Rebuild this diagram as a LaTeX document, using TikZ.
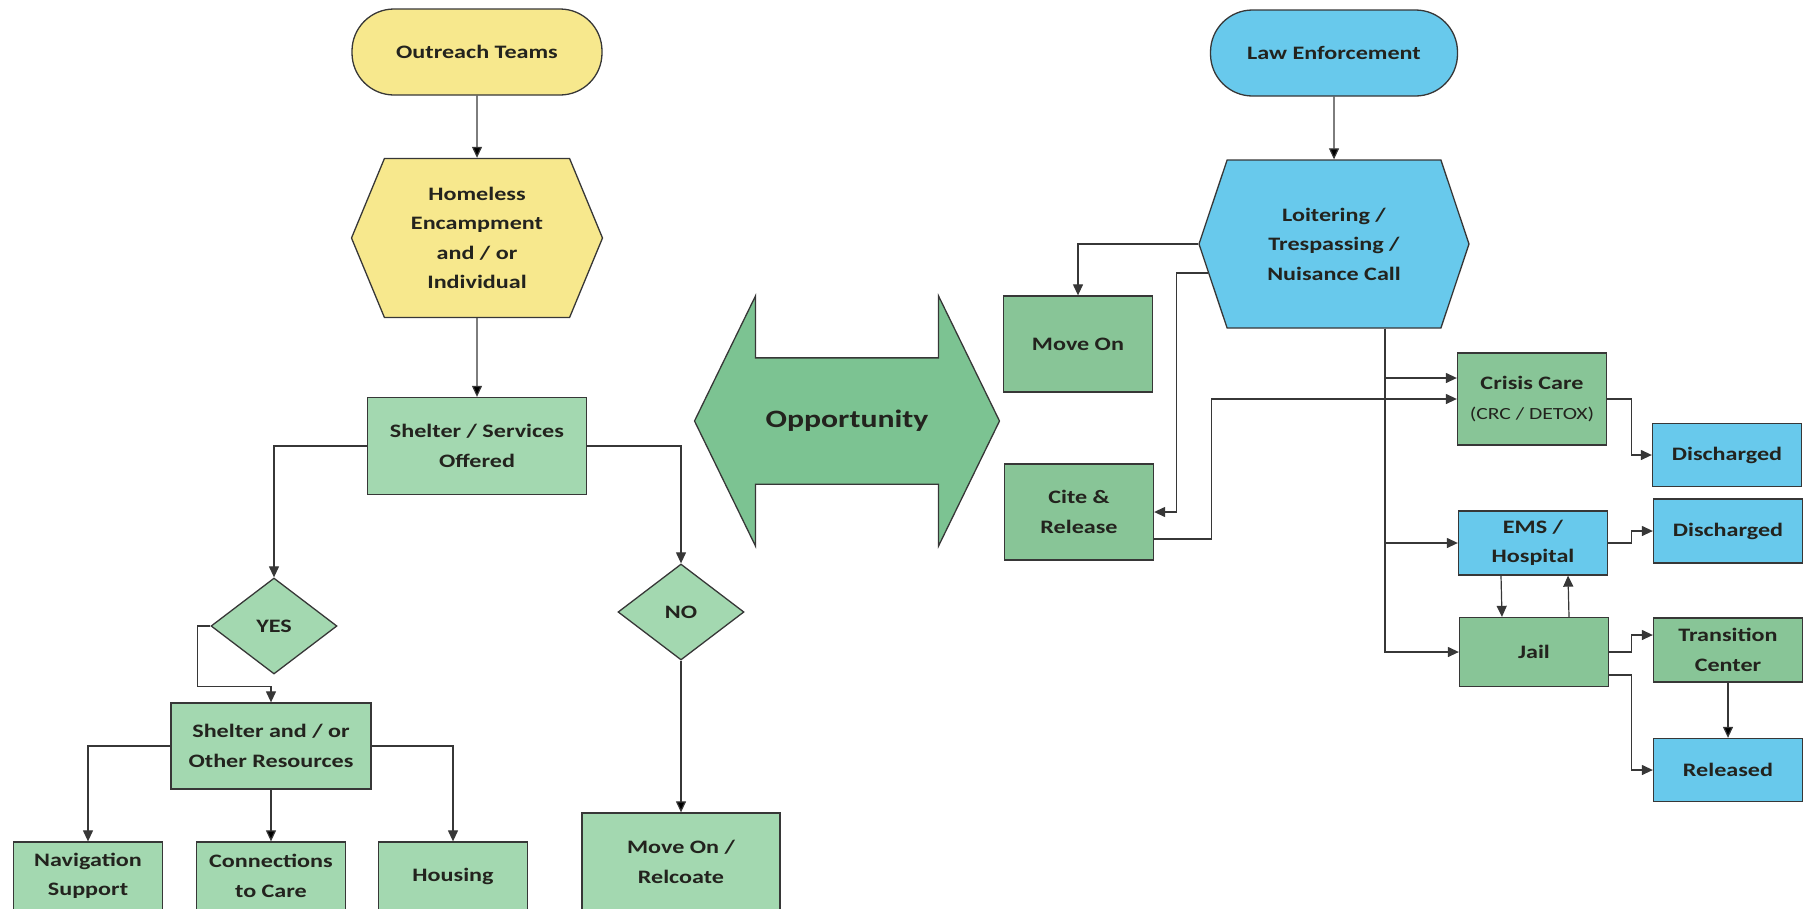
\documentclass[tikz,border=0pt]{standalone}
\usepackage{fontspec}
\setmainfont[FakeStretch=1.27]{Carlito}
\usetikzlibrary{arrows.meta,positioning,calc,shapes.geometric,shapes.symbols,shapes.arrows}

\definecolor{outyellow}{RGB}{247,232,141}
\definecolor{lightgreen}{RGB}{163,216,176}
\definecolor{midgreen}{RGB}{136,197,151}
\definecolor{oppgreen}{RGB}{124,195,146}
\definecolor{skyblue}{RGB}{104,201,236}
\definecolor{edgegray}{RGB}{55,55,55}
\definecolor{textdark}{RGB}{35,35,30}

\begin{document}
\begin{tikzpicture}[x=1pt,y=-1pt,on grid,
    every node/.style={font=\fontsize{19}{29.5}\selectfont\bfseries,text=textdark,align=center},
    base/.style={draw=edgegray,line width=1.3pt,inner sep=2pt},
    pill/.style={base,rectangle,rounded corners=42pt,minimum width=250pt,minimum height=86pt},
    hexa/.style={base,signal,signal to=west and east},
    box/.style={base,rectangle,minimum width=149pt,minimum height=96pt},
    choice/.style={base,diamond,minimum width=126pt,minimum height=96pt,inner sep=0pt,fill=lightgreen},
    link/.style={draw=edgegray,line width=1.2pt,-{Triangle[length=11pt,width=10pt]}}]
  \clip (0,0) rectangle (1813,908);

  % outreach side
  \node[pill,fill=outyellow] (outreach) at (477,52) {Outreach Teams};
  \node[hexa,fill=outyellow,minimum width=251pt,minimum height=159pt,signal pointer angle=135]
    (home) [below=186pt of outreach] {Homeless\\Encampment\\and / or\\Individual};
  \node[box,fill=lightgreen,minimum width=219pt,minimum height=97pt]
    (offer) [below=208pt of home] {Shelter / Services\\Offered};
  \node[choice] (yes) at (274,626) {YES};
  \node[choice] (no) at (681,612) {NO};
  \node[box,fill=lightgreen,minimum width=200pt,minimum height=86pt] (res) at (271,746) {Shelter and / or\\Other Resources};
  \node[box,fill=lightgreen,minimum height=68pt] (nav) at (88,876) {Navigation\\Support};
  \node[box,fill=lightgreen,minimum height=68pt] (care) at (271,876) {Connections\\to Care};
  \node[box,fill=lightgreen,minimum height=68pt] (housing) at (453,876) {Housing};
  \node[box,fill=lightgreen,minimum width=198pt,minimum height=98pt] (relocate) at (681,862) {Move On /\\Relcoate};

  % middle
  \node[base,double arrow,fill=oppgreen,minimum height=305pt,minimum width=249pt,
    inner xsep=0pt,inner ysep=51.5pt,text height=17pt,text depth=5pt,
    double arrow head extend=62pt,double arrow tip angle=128,
    font=\fontsize{25}{30}\selectfont\bfseries] (opp) at (847,421) {Opportunity};

  % law enforcement side
  \node[pill,fill=skyblue,minimum width=247pt] (law) at (1334,53) {Law Enforcement};
  \node[hexa,fill=skyblue,minimum width=270pt,minimum height=168pt,signal pointer angle=143]
    (call) [below=191pt of law] {Loitering /\\Trespassing /\\Nuisance Call};
  \node[box,fill=midgreen] (moveon) at (1078,344) {Move On};
  \node[box,fill=midgreen] (cite) at (1079,512) {Cite \&\\Release};
  \node[box,fill=midgreen,minimum height=92pt] (crisis) at (1532,399)
    {Crisis Care\\{\fontsize{17}{29}\selectfont\mdseries (CRC / DETOX)}};
  \node[box,fill=skyblue,minimum height=63pt] (dis1) at (1727,455) {Discharged};
  \node[box,fill=skyblue,minimum height=64pt] (ems) at (1533,543) {EMS /\\Hospital};
  \node[box,fill=skyblue,minimum height=64pt] (dis2) at (1728,531) {Discharged};
  \node[box,fill=midgreen,minimum height=69pt] (jail) at (1534,652) {Jail};
  \node[box,fill=midgreen,minimum height=64pt] (trans) at (1728,650) {Transition\\Center};
  \node[box,fill=skyblue,minimum height=63pt] (rel) at (1728,770) {Released};

  \path[link]
    (outreach) edge (home)
    (home) edge (offer)
    (no) edge (relocate)
    (res) edge (care)
    (law) edge (call)
    (trans) edge (rel);

  \draw[link] (offer.west) -| (yes.north);
  \draw[link] (offer.east) -| (no.north);
  \draw[link] (yes.west) -- ++(-13,0) |- ($(res.north)+(0,-16)$) -- (res.north);
  \draw[link] (res.west) -| (nav.north);
  \draw[link] (res.east) -| (housing.north);

  \draw[link] (call.west) -| (moveon.north);
  \draw[link] (call.193) -| ($(cite.east)+(22,0)$) -- (cite.east);
  \draw[link] ($(cite.east)+(0,27)$) -- ++(57,0) |- (crisis.west);
  \coordinate (trunk) at ($(call.south)+(51,0)$);
  \draw[link] (trunk) |- ($(crisis.west)+(0,-21)$);
  \draw[link] (trunk) |- (ems.west);
  \draw[link] (trunk) |- (jail.west);
  \draw[link] (crisis.east) -- ++(24,0) |- (dis1.west);
  \draw[link] (ems.east) -- ++(23,0) |- (dis2.west);
  \draw[link] ($(ems.south)+(-32,0)$) -- ($(jail.north)+(-32,0)$);
  \draw[link] ($(jail.north)+(35,0)$) -- ($(ems.south)+(35,0)$);
  \draw[link] (jail.east) -- ++(22,0) |- ($(trans.west)+(0,-15)$);
  \draw[link] ($(jail.east)+(0,23)$) -- ++(22,0) |- (rel.west);
\end{tikzpicture}
\end{document}
